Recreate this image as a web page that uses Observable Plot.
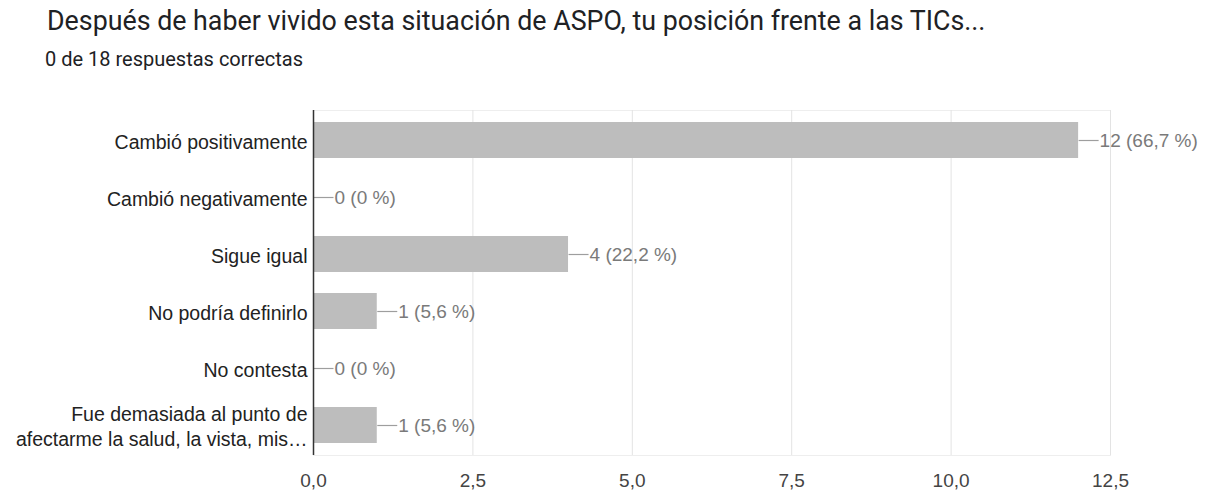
<!DOCTYPE html>
<html>
<head>
<meta charset="utf-8">
<script src="https://cdn.jsdelivr.net/npm/d3@7"></script>
<script src="https://cdn.jsdelivr.net/npm/@observablehq/plot@0.6"></script>
<style>
  html, body { margin: 0; padding: 0; background: #fff; }
  #wrap { position: relative; width: 1206px; height: 492px; overflow: hidden; }
  #chart { position: absolute; left: 0; top: 0; }
  .title { position: absolute; left: 47px; top: 8px; font-family: Roboto, sans-serif; font-size: 26.8px; line-height: 27px; color: #202124; white-space: nowrap; }
  .subtitle { position: absolute; left: 45px; top: 49px; font-family: Roboto, sans-serif; font-size: 20px; line-height: 20px; color: #202124; white-space: nowrap; }
</style>
</head>
<body>
<div id="wrap">
  <div id="chart"></div>
  <div class="title">Después de haber vivido esta situación de ASPO, tu posición frente a las TICs...</div>
  <div class="subtitle">0 de 18 respuestas correctas</div>
</div>
<script>
const categories = [
  "Cambió positivamente",
  "Cambió negativamente",
  "Sigue igual",
  "No podría definirlo",
  "No contesta",
  "Fue demasiada al punto de\nafectarme la salud, la vista, mis…"
];
const counts = [12, 0, 4, 1, 0, 1];
const percents = [66.7, 0, 22.2, 5.6, 0, 5.6];
const xTicks = [0, 2.5, 5, 7.5, 10, 12.5];

const data = categories.map((c, i) => ({ cat: c, value: counts[i], pct: percents[i] }));
const fmtPct = p => p === 0 ? "0" : p.toFixed(1).replace(".", ",");
const fmtTick = t => t.toFixed(1).replace(".", ",");

const leader = {
  draw(context) {
    context.moveTo(0, 0);
    context.lineTo(20, 0);
  }
};

const chart = Plot.plot({
  width: 1206,
  height: 492,
  marginLeft: 313,
  marginRight: 96,
  marginTop: 110,
  marginBottom: 37,
  style: { fontFamily: "'Liberation Sans', Arial, sans-serif", background: "transparent" },
  x: { domain: [0, 12.5], ticks: xTicks },
  y: { type: "band", domain: categories, paddingInner: 0.37, paddingOuter: 0.185 },
  marks: [
    Plot.frame({ stroke: "#eeeeee" }),
    Plot.gridX(xTicks, { stroke: "#e3e3e3", strokeOpacity: 1 }),
    Plot.barX(data, { y: "cat", x: "value", fill: "#bdbdbd" }),
    Plot.dot(data, { x: "value", y: "cat", symbol: leader, stroke: "#9e9e9e", strokeWidth: 1.2, r: 5 }),
    Plot.text(data, {
      x: "value", y: "cat", dx: 21, textAnchor: "start",
      text: d => `${d.value} (${fmtPct(d.pct)} %)`,
      fill: "#7a7a7a", fontSize: 19
    }),
    Plot.ruleX([0], { stroke: "#333333", strokeWidth: 1.5 }),
    Plot.axisX(xTicks, {
      tickSize: 0, tickPadding: 18, tickFormat: fmtTick,
      fontSize: 19, fill: "#444444", label: null
    }),
    Plot.axisY({
      tickSize: 0, tickPadding: 6, fontSize: 19.5, fill: "#222222",
      lineHeight: 1.28, label: null, textOverflow: null, lineWidth: Infinity
    })
  ]
});
document.getElementById("chart").appendChild(chart);
</script>
</body>
</html>
